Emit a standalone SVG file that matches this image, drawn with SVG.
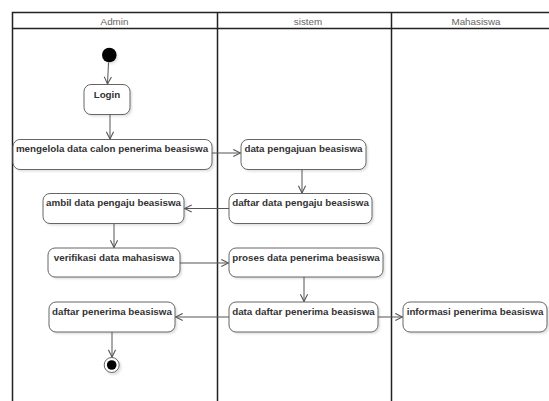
<svg xmlns="http://www.w3.org/2000/svg" width="549" height="401" viewBox="0 0 549 401">
  <defs>
    <style>
      .lane { fill: none; stroke: #222; stroke-width: 1.5; }
      .head { font-family: "Liberation Sans", Arial, sans-serif; font-size: 9.8px; fill: #666; text-anchor: middle; }
      .act rect.box { fill: #fff; stroke: #666; stroke-width: 1; }
      .act rect.shadow { fill: #000; opacity: 0.12; }
      .act text { font-family: "Liberation Sans", Arial, sans-serif; font-size: 9.8px; font-weight: bold; fill: #333; text-anchor: middle; }
      .flow { fill: none; stroke: #555; stroke-width: 1; marker-end: url(#open); }
    </style>
    <marker id="open" viewBox="0 0 10 10" refX="9" refY="5" markerWidth="9" markerHeight="9" markerUnits="userSpaceOnUse" orient="auto">
      <path d="M1,1 L9,5 L1,9" fill="none" stroke="#555" stroke-width="1.2"/>
    </marker>
    <filter id="blurShadow" x="-20%" y="-20%" width="140%" height="140%">
      <feGaussianBlur stdDeviation="1.2"/>
    </filter>
  </defs>

  <rect width="549" height="401" fill="#fff"/>

  <!-- swimlanes -->
  <g id="lanes">
    <path class="lane" d="M12.5,401 V12.5 H549 M12.5,28.5 H549 M217.5,12.5 V401 M391.5,12.5 V401"/>
    <text class="head" x="114.5" y="24.5">Admin</text>
    <text class="head" x="308" y="24.5">sistem</text>
    <text class="head" x="476" y="24.5">Mahasiswa</text>
  </g>

  <!-- start -->
  <g id="start">
    <circle cx="111" cy="57" r="7" fill="#000" opacity="0.12" filter="url(#blurShadow)"/>
    <circle cx="109.3" cy="55" r="7.3" fill="#000"/>
  </g>

  <g id="login" class="act">
    <rect class="shadow" x="86" y="86.5" width="46" height="30" rx="7" filter="url(#blurShadow)"/>
    <rect class="box" x="84" y="84.5" width="46" height="30" rx="7"/>
    <text x="107" y="97.5">Login</text>
  </g>

  <g id="mengelola" class="act">
    <rect class="shadow" x="15" y="141.5" width="199" height="30" rx="7" filter="url(#blurShadow)"/>
    <rect class="box" x="13" y="139.5" width="199" height="30" rx="7"/>
    <text x="112" y="152">mengelola data calon penerima beasiswa</text>
  </g>

  <g id="dataPengajuan" class="act">
    <rect class="shadow" x="243" y="141.5" width="125" height="30" rx="7" filter="url(#blurShadow)"/>
    <rect class="box" x="241" y="139.5" width="125" height="30" rx="7"/>
    <text x="303.5" y="152">data pengajuan beasiswa</text>
  </g>

  <g id="daftarDataPengaju" class="act">
    <rect class="shadow" x="231" y="195.5" width="143" height="30" rx="7" filter="url(#blurShadow)"/>
    <rect class="box" x="229" y="193.5" width="143" height="30" rx="7"/>
    <text x="300.5" y="206">daftar data pengaju beasiswa</text>
  </g>

  <g id="ambilData" class="act">
    <rect class="shadow" x="45" y="195.5" width="141" height="30" rx="7" filter="url(#blurShadow)"/>
    <rect class="box" x="43" y="193.5" width="141" height="30" rx="7"/>
    <text x="113.5" y="206">ambil data pengaju beasiswa</text>
  </g>

  <g id="verifikasi" class="act">
    <rect class="shadow" x="50" y="250" width="132" height="29" rx="7" filter="url(#blurShadow)"/>
    <rect class="box" x="48" y="248" width="132" height="29" rx="7"/>
    <text x="114" y="260.5">verifikasi data mahasiswa</text>
  </g>

  <g id="prosesData" class="act">
    <rect class="shadow" x="231" y="250" width="154" height="29" rx="7" filter="url(#blurShadow)"/>
    <rect class="box" x="229" y="248" width="154" height="29" rx="7"/>
    <text x="306" y="260.5">proses data penerima beasiswa</text>
  </g>

  <g id="dataDaftarPenerima" class="act">
    <rect class="shadow" x="231" y="304" width="149" height="30" rx="7" filter="url(#blurShadow)"/>
    <rect class="box" x="229" y="302" width="149" height="30" rx="7"/>
    <text x="303.5" y="314.5">data daftar penerima beasiswa</text>
  </g>

  <g id="daftarPenerima" class="act">
    <rect class="shadow" x="51" y="304" width="126" height="30" rx="7" filter="url(#blurShadow)"/>
    <rect class="box" x="49" y="302" width="126" height="30" rx="7"/>
    <text x="112" y="314.5">daftar penerima beasiswa</text>
  </g>

  <g id="informasi" class="act">
    <rect class="shadow" x="405" y="304" width="144" height="30" rx="7" filter="url(#blurShadow)"/>
    <rect class="box" x="403" y="302" width="144" height="30" rx="7"/>
    <text x="475" y="314.5">informasi penerima beasiswa</text>
  </g>

  <!-- end -->
  <g id="end">
    <circle cx="113.5" cy="367" r="8" fill="#000" opacity="0.12" filter="url(#blurShadow)"/>
    <circle cx="111.7" cy="365" r="7.5" fill="#fff" stroke="#666" stroke-width="1"/>
    <circle cx="111.7" cy="365" r="4.8" fill="#000"/>
  </g>

  <!-- flows -->
  <g id="connectors">
    <path class="flow" d="M108.5,62.5 L107.5,84"/>
    <path class="flow" d="M110,114.5 V139"/>
    <path class="flow" d="M212,153 H240.5"/>
    <path class="flow" d="M302,169.5 V193"/>
    <path class="flow" d="M229,208.5 H184.5"/>
    <path class="flow" d="M114,223.5 V247.5"/>
    <path class="flow" d="M180,263 H228.5"/>
    <path class="flow" d="M304,277 V301.5"/>
    <path class="flow" d="M229,317 H175.5"/>
    <path class="flow" d="M378,317 H402.5"/>
    <path class="flow" d="M112,332 V357"/>
  </g>
</svg>
